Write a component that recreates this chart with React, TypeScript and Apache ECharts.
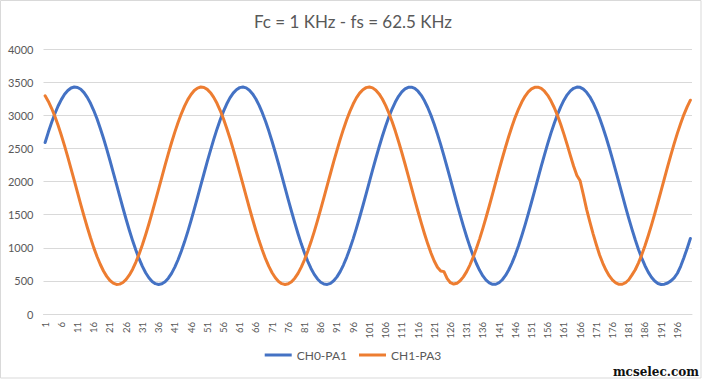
import React, { useEffect, useRef } from "react";
import * as echarts from "echarts";

const titleText = "Fc = 1 KHz - fs = 62.5 KHz";
const seriesNames = ["CH0-PA1", "CH1-PA3"];
const categories: string[] = Array.from({ length: 200 }, (_, i) => String(i + 1));
const yTicks = { min: 0, max: 4000, interval: 500 };

const ch0: number[] = [
  2588, 2746, 2891, 3023, 3139, 3236, 3316, 3373, 3411, 3426,
  3419, 3392, 3341, 3270, 3180, 3071, 2946, 2805, 2652, 2489,
  2317, 2139, 1959, 1778, 1600, 1426, 1260, 1104, 961, 831,
  718, 623, 547, 492, 458, 446, 456, 488, 541, 614,
  708, 819, 947, 1089, 1244, 1409, 1582, 1760, 1940, 2121,
  2299, 2471, 2636, 2790, 2932, 3059, 3169, 3262, 3334, 3386,
  3417, 3426, 3413, 3378, 3322, 3245, 3149, 3035, 2905, 2761,
  2604, 2438, 2264, 2086, 1905, 1724, 1547, 1375, 1212, 1059,
  920, 796, 688, 598, 529, 480, 452, 447, 463, 501,
  560, 640, 739, 855, 988, 1134, 1292, 1460, 1634, 1813,
  1994, 2174, 2351, 2521, 2683, 2834, 2972, 3094, 3199, 3286,
  3352, 3398, 3422, 3424, 3405, 3363, 3301, 3218, 3117, 2998,
  2864, 2715, 2556, 2387, 2211, 2032, 1850, 1671, 1495, 1326,
  1166, 1017, 881, 762, 659, 575, 512, 469, 448, 449,
  472, 517, 582, 668, 772, 893, 1030, 1180, 1341, 1511,
  1687, 1867, 2048, 2228, 2403, 2571, 2730, 2876, 3010, 3127,
  3227, 3308, 3368, 3407, 3425, 3421, 3394, 3347, 3278, 3190,
  3083, 2959, 2820, 2669, 2506, 2335, 2158, 1978, 1797, 1618,
  1444, 1277, 1120, 975, 844, 729, 632, 554, 497, 461,
  446, 450, 468, 500, 545, 615, 720, 850, 990, 1140,
];

const ch1: number[] = [
  3293, 3209, 3105, 2985, 2849, 2699, 2538, 2369, 2192, 2013,
  1832, 1652, 1477, 1310, 1150, 1002, 868, 751, 649, 568,
  506, 466, 447, 451, 476, 523, 590, 677, 784, 907,
  1045, 1196, 1359, 1529, 1707, 1886, 2067, 2246, 2421, 2588,
  2745, 2890, 3022, 3138, 3236, 3314, 3373, 3410, 3426, 3419,
  3391, 3340, 3270, 3180, 3071, 2946, 2805, 2652, 2489, 2317,
  2139, 1959, 1778, 1600, 1426, 1260, 1104, 961, 831, 718,
  623, 547, 492, 458, 446, 456, 488, 541, 614, 708,
  819, 947, 1089, 1244, 1409, 1582, 1760, 1940, 2121, 2299,
  2471, 2636, 2790, 2932, 3059, 3169, 3262, 3334, 3386, 3417,
  3426, 3413, 3378, 3322, 3245, 3149, 3035, 2905, 2761, 2604,
  2438, 2264, 2086, 1905, 1724, 1547, 1375, 1212, 1059, 920,
  800, 705, 650, 640, 535, 472, 452, 463, 501, 560,
  640, 739, 855, 988, 1134, 1292, 1460, 1634, 1813, 1994,
  2174, 2351, 2521, 2683, 2834, 2972, 3094, 3199, 3286, 3352,
  3398, 3422, 3424, 3405, 3363, 3301, 3218, 3117, 2998, 2864,
  2715, 2556, 2390, 2230, 2090, 2010, 1800, 1580, 1390, 1210,
  1045, 890, 765, 660, 575, 512, 469, 448, 449, 472,
  517, 590, 668, 772, 893, 1030, 1180, 1341, 1511, 1687,
  1867, 2048, 2228, 2403, 2571, 2730, 2876, 3010, 3127, 3227,
];

const colors = ["#4472C4", "#ED7D31"];
const FONT = "Lato, 'Noto Sans', sans-serif";

export default function App() {
  const ref = useRef<HTMLDivElement>(null);
  useEffect(() => {
    document.body.style.margin = "0";
    if (!ref.current) return;
    const chart = echarts.init(ref.current, undefined, { renderer: "svg" });
    chart.setOption({
      animation: false,
      backgroundColor: "#ffffff",
      color: colors,
      textStyle: { fontFamily: FONT },
      title: {
        text: titleText,
        left: "center",
        top: 8,
        textStyle: { fontFamily: FONT, fontSize: 17, fontWeight: "normal", color: "#595959" },
      },
      grid: { left: 43.5, right: 14, top: 49, bottom: 66, containLabel: false },
      legend: {
        bottom: 14,
        left: "center",
        icon: "rect",
        itemWidth: 27,
        itemHeight: 3,
        itemGap: 12,
        data: seriesNames,
        textStyle: { fontFamily: FONT, fontSize: 12, color: "#595959" },
      },
      xAxis: {
        type: "category",
        data: categories,
        boundaryGap: true,
        axisLine: { show: true, lineStyle: { color: "#d9d9d9", width: 1 } },
        axisTick: { show: false },
        axisLabel: {
          interval: 4,
          rotate: 90,
          margin: 8,
          fontFamily: FONT,
          fontSize: 9.5,
          color: "#595959",
        },
        splitLine: { show: false },
      },
      yAxis: {
        type: "value",
        min: yTicks.min,
        max: yTicks.max,
        interval: yTicks.interval,
        axisLine: { show: false },
        axisTick: { show: false },
        axisLabel: {
          margin: 10,
          fontFamily: FONT,
          fontSize: 11,
          color: "#595959",
          formatter: (v: number) => String(v),
        },
        splitLine: { lineStyle: { color: "#d9d9d9", width: 1 } },
      },
      series: [
        {
          name: seriesNames[0],
          type: "line",
          data: ch0,
          symbol: "none",
          lineStyle: { width: 3, color: colors[0], cap: "round", join: "round" },
        },
        {
          name: seriesNames[1],
          type: "line",
          data: ch1,
          symbol: "none",
          lineStyle: { width: 3, color: colors[1], cap: "round", join: "round" },
        },
      ],
      graphic: [
        {
          type: "rect",
          shape: { x: 0.5, y: 0.5, width: 700.5, height: 377.5 },
          style: { fill: "none", stroke: "#d9d9d9", lineWidth: 1 },
          silent: true,
        },
        {
          type: "text",
          x: 699,
          y: 372,
          style: {
            text: "mcselec.com",
            align: "right",
            verticalAlign: "middle",
            font: "bold 12px 'DejaVu Serif'",
            fill: "#111111",
          },
          silent: true,
        },
      ],
    });
    return () => chart.dispose();
  }, []);
  return <div ref={ref} style={{ width: 706, height: 380 }} />;
}
